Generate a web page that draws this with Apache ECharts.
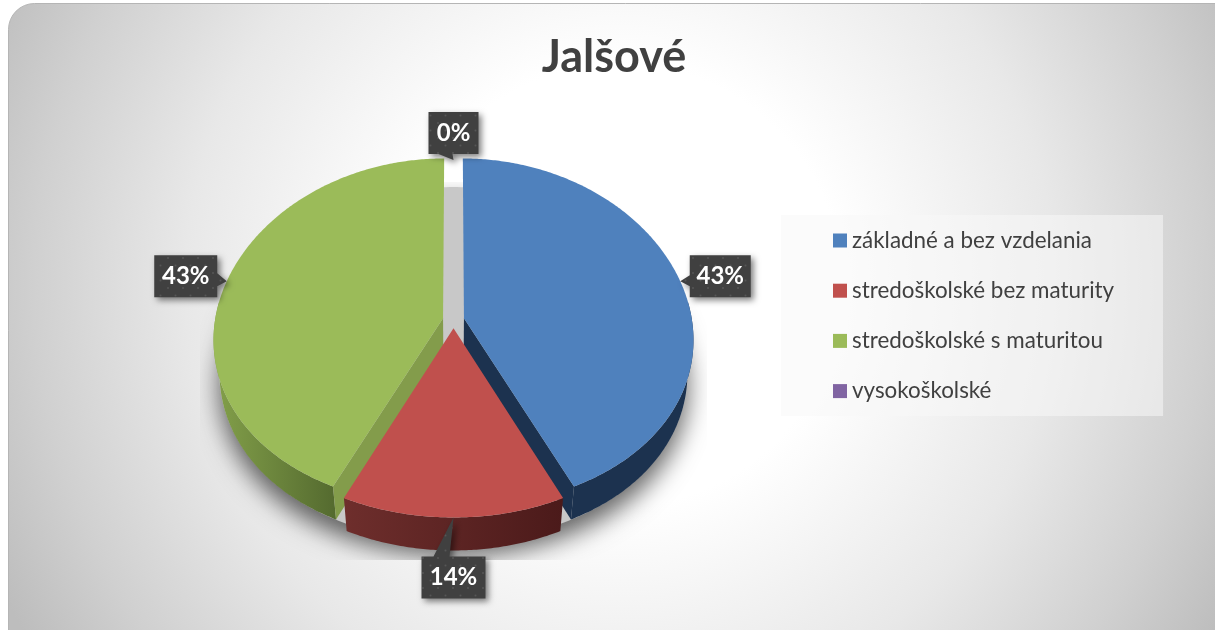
<!DOCTYPE html>
<html>
<head>
<meta charset="utf-8">
<title>Jalšové</title>
<script src="https://cdn.jsdelivr.net/npm/echarts@6/dist/echarts.min.js"></script>
<style>
html, body { margin: 0; padding: 0; background: #fff; }
#main { width: 1215px; height: 630px; }
</style>
</head>
<body>
<div id="main"></div>
<script>
//názvy kategórií a hodnoty v %
var titleText = 'Jalšové';
var categories = ['základné a bez vzdelania', 'stredoškolské bez maturity', 'stredoškolské s maturitou', 'vysokoškolské'];
var percentValues = [43, 14, 43, 0];
var topColors = ['#4f81bd', '#c0504d', '#9bbb59', '#8064a2'];
var cutColors = ['#1c324f', '#4e1b1b', '#839c4b', '#4d3b62'];
var wallStops = [
	['#1c324f', '#1c324f'],
	['#6e2e2c', '#4b1a1a'],
	['#83a04a', '#546a2f'],
	['#4d3b62', '#4d3b62']
];
//ktorá rezná stena je vidno: koniec (1) alebo začiatok (0) výseku
var visibleCut = [1, null, 0, null];
//poradie kreslenia: zadné výseky skôr, červený navrchu
var drawOrder = [0, 2, 3, 1];
//umiestnenie popiskov voči špičke: posun stredu boxu, šírka boxu
var labelOffset = [[40, -5], [0, 60], [-41, -5], [0, -27]];
var labelWidth = [61, 64, 63, 50];
var labelHeight = 42;

//parametre perspektívy
var cx = 453.5, cy = 320, rx = 228, ry = 172.8, persp = 0.08, perspX = 0.12;
var explode = 0.047, wallH = 33, wallShrink = 0.975;
var total = percentValues.reduce(function (a, b) { return a + b; }, 0);

function project(u, v) {
	return [cx + rx * u / (1 + perspX * v), cy - ry * v / (1 + persp * v)];
}
function lower(p) {
	return [cx + (p[0] - cx) * wallShrink, p[1] + wallH];
}
//uhol začiatku a konca výseku, od vrchu v smere hodín
function sliceAngles(index) {
	var start = 0;
	for (var i = 0; i < index; i++) {
		start += percentValues[i] / total * Math.PI * 2;
	}
	return [start, start + percentValues[index] / total * Math.PI * 2];
}
function rimPoint(angle, mid, r, off) {
	return project(r * Math.sin(angle) + off * Math.sin(mid), r * Math.cos(angle) + off * Math.cos(mid));
}

//bodkovaný vzor popiskov
function dotPattern() {
	var c = document.createElement('canvas');
	c.width = 15;
	c.height = 15;
	var ctx = c.getContext('2d');
	ctx.fillStyle = '#404040';
	ctx.fillRect(0, 0, 15, 15);
	ctx.fillStyle = '#565656';
	[[3, 3], [10.5, 10.5]].forEach(function (d) {
		ctx.beginPath();
		ctx.arc(d[0], d[1], 1, 0, Math.PI * 2);
		ctx.fill();
	});
	return { image: c, repeat: 'repeat' };
}
var labelFill = dotPattern();

function calloutPoints(tip, index) {
	var w = labelWidth[index], h = labelHeight;
	var bx = tip[0] + labelOffset[index][0], by = tip[1] + labelOffset[index][1];
	var l = bx - w / 2, r = bx + w / 2, t = by - h / 2, b = by + h / 2;
	var pts;
	if (tip[0] > r) {
		pts = [[l, t], [r, t], [r, tip[1] - 8], tip, [r, tip[1] + 5], [r, b], [l, b]];
	} else if (tip[0] < l) {
		pts = [[l, t], [r, t], [r, b], [l, b], [l, tip[1] + 5], tip, [l, tip[1] - 6]];
	} else if (tip[1] < t) {
		pts = [[l, t], [tip[0] - 20, t], tip, [tip[0] - 4, t], [r, t], [r, b], [l, b]];
	} else {
		pts = [[l, t], [r, t], [r, b], [tip[0] - 1, b], tip, [tip[0] - 15, b], [l, b]];
	}
	return { pts: pts, x: bx, y: by };
}

function renderSlice(index) {
	return function () {
		var a = sliceAngles(index);
		var mid = (a[0] + a[1]) / 2;
		var children = [];
		var z = drawOrder.indexOf(index) * 10 + 10;
		var empty = !(a[1] > a[0]);
		if (!empty) {
			var arc = [], front = [];
			var n = Math.ceil((a[1] - a[0]) / 0.01);
			for (var i = 0; i <= n; i++) {
				var ang = a[0] + (a[1] - a[0]) * i / n;
				var p = rimPoint(ang, mid, 1, explode);
				arc.push(p);
				if (Math.cos(ang) < 0.1) {
					front.push(p);
				}
			}
			//vonkajšia stena
			var wall = front.concat(front.map(lower).reverse());
			children.push({
				type: 'polygon',
				z2: z,
				shape: { points: wall },
				style: {
					fill: {
						type: 'linear', x: 0, y: 0, x2: 1, y2: 0,
						colorStops: [
							{ offset: 0, color: wallStops[index][0] },
							{ offset: 1, color: wallStops[index][1] }
						]
					}
				}
			});
			var apex = rimPoint(0, mid, 0, explode);
			//rezná stena
			if (visibleCut[index] !== null) {
				var edge = visibleCut[index] === 1 ? arc[arc.length - 1] : arc[0];
				children.push({
					type: 'polygon',
					z2: z + 1,
					shape: { points: [apex, edge, lower(edge), lower(apex)] },
					style: { fill: cutColors[index] }
				});
			}
			//horná plocha
			children.push({
				type: 'polygon',
				z2: z + 2,
				shape: { points: [apex].concat(arc) },
				style: { fill: topColors[index] }
			});
		}
		//popisok
		var tip = rimPoint(mid, mid, 1, empty ? 0 : explode);
		var box = calloutPoints(tip, index);
		children.push({
			type: 'polygon',
			z2: 90,
			shape: { points: box.pts },
			style: {
				fill: labelFill,
				shadowBlur: 6,
				shadowOffsetX: 3,
				shadowOffsetY: 3,
				shadowColor: 'rgba(0,0,0,0.5)'
			}
		});
		children.push({
			type: 'text',
			z2: 91,
			style: {
				text: percentValues[index] + '%',
				x: box.x,
				y: box.y,
				fill: '#fff',
				font: 'bold 24px Lato',
				textAlign: 'center',
				textVerticalAlign: 'middle'
			}
		});
		return { type: 'group', children: children };
	};
}

//tieň pod koláčom
function renderShadow() {
	var pts = [];
	for (var i = 0; i < 360; i++) {
		var p = project(1.02 * Math.sin(i * Math.PI / 180), 1.02 * Math.cos(i * Math.PI / 180));
		pts.push([p[0], p[1] + 30]);
	}
	return {
		type: 'polygon',
		z2: 1,
		shape: { points: pts },
		clipPath: { type: 'rect', shape: { x: 200, y: 182, width: 507, height: 378 } },
		style: { fill: '#c8c8c8', shadowBlur: 24, shadowOffsetY: 14, shadowColor: 'rgba(0,0,0,0.6)' }
	};
}

var series = [{
	type: 'custom',
	name: 'tien',
	coordinateSystem: 'none',
	silent: true,
	data: [[1]],
	renderItem: renderShadow
}];
for (var i = 0; i < categories.length; i++) {
	series.push({
		type: 'custom',
		name: categories[i],
		coordinateSystem: 'none',
		silent: true,
		itemStyle: { color: topColors[i] },
		data: [[percentValues[i]]],
		renderItem: renderSlice(i)
	});
}

var mychart = echarts.init(document.getElementById('main'), null, { renderer: 'canvas' });
var option = {
	animation: false,
	graphic: [{
		type: 'rect',
		z: -10,
		silent: true,
		shape: { x: 8.5, y: 3.5, width: 1240, height: 670, r: 26 },
		style: {
			stroke: '#b5b5b5',
			lineWidth: 1,
			fill: {
				type: 'radial', x: 620, y: 285, r: 690, global: true,
				colorStops: [
					{ offset: 0, color: '#ffffff' },
					{ offset: 0.32, color: '#ffffff' },
					{ offset: 0.63, color: '#e8e8e8' },
					{ offset: 0.85, color: '#d0d0d0' },
					{ offset: 1, color: '#bdbdbd' }
				]
			}
		}
	}],
	title: {
		text: titleText,
		left: 609,
		top: 30,
		textAlign: 'center',
		textStyle: {
			fontFamily: 'Lato',
			fontWeight: 'bold',
			fontSize: 45,
			color: '#404040'
		}
	},
	legend: {
		data: categories,
		orient: 'vertical',
		left: 781,
		top: 215,
		padding: [14.5, 49, 14, 52],
		itemGap: 28.2,
		itemWidth: 14,
		itemHeight: 14,
		icon: 'rect',
		selectedMode: false,
		backgroundColor: 'rgba(248,248,248,0.55)',
		textStyle: {
			fontFamily: 'Lato',
			fontSize: 22.4,
			color: '#404040',
			padding: 0
		}
	},
	series: series
};
mychart.setOption(option);
</script>
</body>
</html>
